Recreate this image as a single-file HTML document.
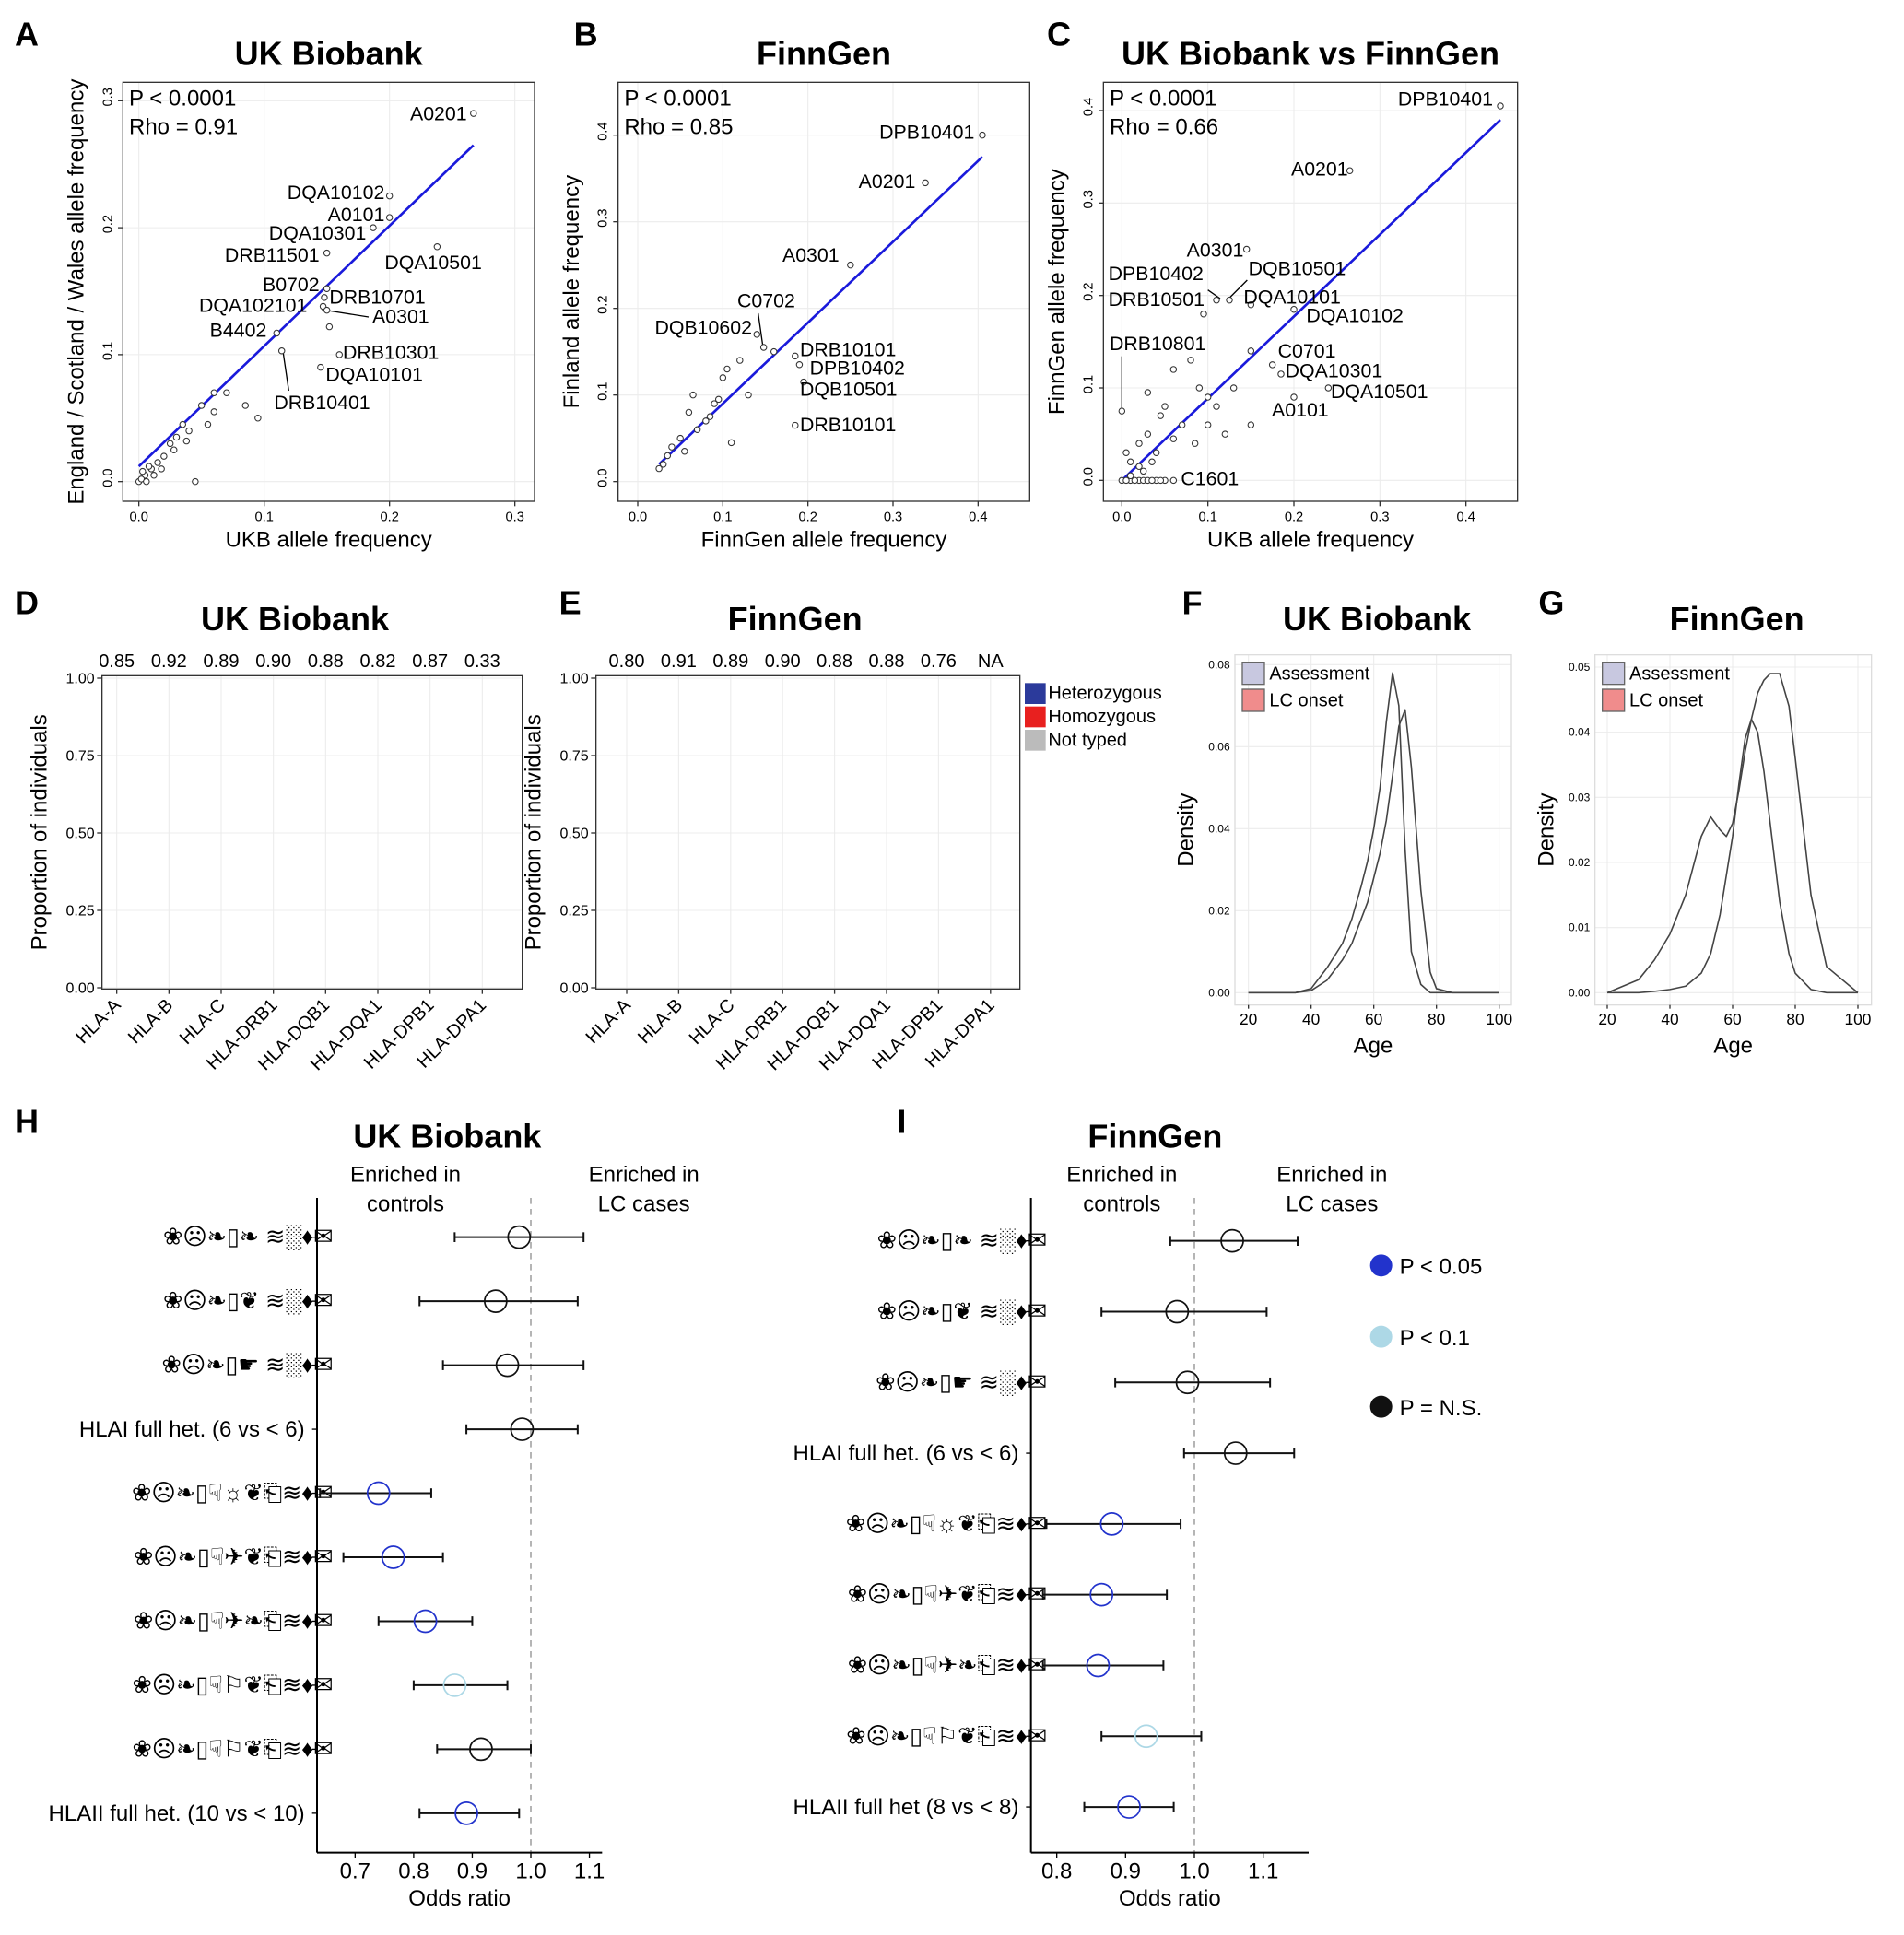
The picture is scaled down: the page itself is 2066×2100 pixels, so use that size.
<!DOCTYPE html>
<html><head><meta charset="utf-8"><style>
html,body{margin:0;padding:0;background:#fff}
svg{display:block;font-family:"Liberation Sans",Arial,sans-serif}
</style></head><body>
<svg id="fig" width="2066" height="2100" viewBox="0 0 1549.5 1575" xmlns="http://www.w3.org/2000/svg"></svg>
<script>
// ---------- DATA ----------
const scatterA = [[0.267,0.29,"A0201"],[0.2,0.225,"DQA10102"],[0.2,0.208,"A0101"],[0.187,0.2,"DQA10301"],[0.15,0.18,"DRB11501"],[0.238,0.185,"DQA10501"],[0.15,0.152,"B0702"],[0.148,0.145,"DRB10701"],[0.147,0.138,"DQA102101"],[0.15,0.135,"A0301"],[0.11,0.117,"B4402"],[0.16,0.1,"DRB10301"],[0.145,0.09,"DQA10101"],[0.114,0.103,"DRB10401"],
[0.152,0.122,""],[0.095,0.05,""],[0.085,0.06,""],[0.07,0.07,""],[0.06,0.055,""],[0.055,0.045,""],[0.04,0.04,""],[0.035,0.045,""],[0.03,0.035,""],[0.045,0.0,""],[0.025,0.03,""],[0.02,0.02,""],[0.015,0.015,""],[0.01,0.01,""],[0.005,0.005,""],[0.0,0.0,""],[0.008,0.012,""],[0.003,0.008,""],[0.012,0.005,""],[0.06,0.07,""],[0.05,0.06,""],[0.038,0.032,""],[0.028,0.025,""],[0.018,0.01,""],[0.002,0.002,""],[0.006,0.0,""]];
const scatterB = [[0.405,0.4,"DPB10401"],[0.338,0.345,"A0201"],[0.25,0.25,"A0301"],[0.148,0.155,"C0702"],[0.14,0.17,"DQB10602"],[0.185,0.145,"DRB10101"],[0.19,0.135,"DPB10402"],[0.195,0.115,"DQB10501"],[0.185,0.065,"DRB10101"],
[0.12,0.14,""],[0.1,0.12,""],[0.09,0.09,""],[0.08,0.07,""],[0.07,0.06,""],[0.06,0.08,""],[0.05,0.05,""],[0.04,0.04,""],[0.03,0.02,""],[0.025,0.015,""],[0.035,0.03,""],[0.11,0.045,""],[0.13,0.1,""],[0.095,0.095,""],[0.085,0.075,""],[0.065,0.1,""],[0.055,0.035,""],[0.16,0.15,""],[0.105,0.13,""]];
const scatterC = [[0.44,0.405,"DPB10401"],[0.265,0.335,"A0201"],[0.145,0.25,"A0301"],[0.125,0.195,"DQB10501"],[0.11,0.195,"DPB10402"],[0.095,0.18,"DRB10501"],[0.15,0.19,"DQA10101"],[0.2,0.185,"DQA10102"],[0.0,0.075,"DRB10801"],[0.175,0.125,"C0701"],[0.185,0.115,"DQA10301"],[0.24,0.1,"DQA10501"],[0.2,0.09,"A0101"],[0.06,0.0,"C1601"],
[0.03,0.095,""],[0.05,0.08,""],[0.07,0.06,""],[0.1,0.06,""],[0.13,0.1,""],[0.15,0.14,""],[0.12,0.05,""],[0.08,0.13,""],[0.06,0.12,""],[0.02,0.04,""],[0.01,0.02,""],[0.04,0.03,""],[0.03,0.05,""],[0.045,0.07,""],[0.09,0.1,""],[0.11,0.08,""],[0.15,0.06,""],[0.02,0.0,""],[0.01,0.0,""],[0.04,0.0,""],[0.05,0.0,""],[0.0,0.0,""],[0.025,0.01,""],[0.005,0.03,""],[0.085,0.04,""],[0.005,0.0,""],[0.015,0.0,""],[0.025,0.0,""],[0.03,0.0,""],[0.035,0.0,""],[0.045,0.0,""],[0.01,0.005,""],[0.02,0.015,""],[0.035,0.02,""],[0.06,0.045,""],[0.1,0.09,""]];
const fitA=[0.0,0.012,0.267,0.265], fitB=[0.025,0.02,0.405,0.375], fitC=[0.0,0.0,0.44,0.39];
const lociCats=["HLA-A","HLA-B","HLA-C","HLA-DRB1","HLA-DQB1","HLA-DQA1","HLA-DPB1","HLA-DPA1"];
const topD=["0.85","0.92","0.89","0.90","0.88","0.82","0.87","0.33"];
const topE=["0.80","0.91","0.89","0.90","0.88","0.88","0.76","NA"];
const ages=[20,30,35,40,45,50,53,56,58,60,62,64,66,68,70,72,75,78,80,85,90,100];
const ukAssess=[0,0,0,0.001,0.006,0.012,0.018,0.026,0.032,0.04,0.05,0.066,0.078,0.07,0.035,0.01,0.002,0,0,0,0,0];
const ukOnset=[0,0,0,0.0005,0.003,0.008,0.012,0.018,0.022,0.028,0.034,0.042,0.053,0.065,0.069,0.055,0.025,0.005,0.001,0,0,0];
const fgAssess=[0,0,0.0002,0.0005,0.001,0.003,0.006,0.012,0.018,0.024,0.032,0.039,0.042,0.04,0.034,0.026,0.014,0.006,0.003,0.0005,0,0];
const fgOnset=[0,0.002,0.005,0.009,0.015,0.024,0.027,0.025,0.024,0.026,0.031,0.037,0.042,0.046,0.048,0.049,0.049,0.044,0.036,0.015,0.004,0];
const hLabels=["\u2740\u2639\u2767\u25AF\u2767 \u224B\u2591\u2666\u2709","\u2740\u2639\u2767\u25AF\u2766 \u224B\u2591\u2666\u2709","\u2740\u2639\u2767\u25AF\u261B \u224B\u2591\u2666\u2709","HLAI full het. (6 vs < 6)","\u2740\u2639\u2767\u25AF\u261F\u263C\u2766\u2397\u224B\u2666\u2709","\u2740\u2639\u2767\u25AF\u261F\u2708\u2766\u2397\u224B\u2666\u2709","\u2740\u2639\u2767\u25AF\u261F\u2708\u2767\u2397\u224B\u2666\u2709","\u2740\u2639\u2767\u25AF\u261F\u2690\u2766\u2397\u224B\u2666\u2709","\u2740\u2639\u2767\u25AF\u261F\u2690\u2766\u2397\u224B\u2666\u2709","HLAII full het. (10 vs < 10)"];
const hOR=[0.98,0.94,0.96,0.985,0.74,0.765,0.82,0.87,0.915,0.89];
const hLo=[0.87,0.81,0.85,0.89,0.64,0.68,0.74,0.80,0.84,0.81];
const hHi=[1.09,1.08,1.09,1.08,0.83,0.85,0.90,0.96,1.00,0.98];
const hSig=[0,0,0,0,2,2,2,1,0,2];
const iLabels=["\u2740\u2639\u2767\u25AF\u2767 \u224B\u2591\u2666\u2709","\u2740\u2639\u2767\u25AF\u2766 \u224B\u2591\u2666\u2709","\u2740\u2639\u2767\u25AF\u261B \u224B\u2591\u2666\u2709","HLAI full het. (6 vs < 6)","\u2740\u2639\u2767\u25AF\u261F\u263C\u2766\u2397\u224B\u2666\u2709","\u2740\u2639\u2767\u25AF\u261F\u2708\u2766\u2397\u224B\u2666\u2709","\u2740\u2639\u2767\u25AF\u261F\u2708\u2767\u2397\u224B\u2666\u2709","\u2740\u2639\u2767\u25AF\u261F\u2690\u2766\u2397\u224B\u2666\u2709","HLAII full het (8 vs < 8)"];
const iOR=[1.055,0.975,0.99,1.06,0.88,0.865,0.86,0.93,0.905];
const iLo=[0.965,0.865,0.885,0.985,0.785,0.78,0.78,0.865,0.84];
const iHi=[1.15,1.105,1.11,1.145,0.98,0.96,0.955,1.01,0.97];
const iSig=[0,0,0,0,2,2,2,1,2];
const sigColors=["#111","#add8e6","#2233cc"];

// label placement (layout, not data)
const posA={0:[380,98,'end'],1:[313,162,'end'],2:[313,180,'end'],3:[298,195,'end'],4:[260,213,'end'],5:[313,219,'start'],6:[260,237,'end'],7:[268,247,'start'],8:[250,254,'end'],9:[303,263,'start'],10:[217,274,'end'],11:[279,292,'start'],12:[265,310,'start'],13:[223,333,'start']};
const posB={0:[793,113,'end'],1:[745,153,'end'],2:[683,213,'end'],3:[600,250,'start'],4:[612,272,'end'],5:[651,290,'start'],6:[659,305,'start'],7:[651,322,'start'],8:[651,351,'start']};
const posC={0:[1215,86,'end'],1:[1097,143,'end'],2:[1012,209,'end'],3:[1016,224,'start'],4:[902,228,'start'],5:[902,249,'start'],6:[1012,247,'start'],7:[1063,262,'start'],8:[903,285,'start'],9:[1040,291,'start'],10:[1046,307,'start'],11:[1083,324,'start'],12:[1035,339,'start'],13:[961,395,'start']};
const leadA=[[262,252,300,258],[230,284,235,318]], leadB=[[621,283,617,255]], leadC=[[913,290,913,335],[1000,243,1015,228],[983,236,993,243]];

// ---------- HELPERS ----------
const svg=document.getElementById('fig');const NS="http://www.w3.org/2000/svg";
function el(tag,attrs,parent,txt){const e=document.createElementNS(NS,tag);for(const k in attrs)e.setAttribute(k,attrs[k]);if(txt!==undefined)e.textContent=txt;(parent||svg).appendChild(e);return e;}
function lin(d0,d1,r0,r1){return v=>r0+(v-d0)*(r1-r0)/(d1-d0);}
function grp(name){const g=el('g',{},svg);return g;}
function txt(g,x,y,s,size,anchor,name,extra){const t=el('text',Object.assign({x:x,y:y,'font-size':size,'text-anchor':anchor||'start',fill:'#000'},extra||{}),g,s);return t;}
function grid(g,x0,y0,x1,y1,xs,ys){xs.forEach(x=>el('line',{x1:x,x2:x,y1:y0,y2:y1,stroke:'#ececec','stroke-width':0.8},g));ys.forEach(y=>el('line',{x1:x0,x2:x1,y1:y,y2:y,stroke:'#ececec','stroke-width':0.8},g));}

[["A",12,37],["B",467,37],["C",852,37],["D",12,500],["E",455,500],["F",962,500],["G",1252,500],["H",12,922],["I",730,922]].forEach(p=>{const g=grp('panel-letter-'+p[0].toLowerCase());txt(g,p[1],p[2],p[0],27,'start','panel-letter',{'font-weight':'bold'});});

// ---------- SCATTER PANELS ----------
function scatter(key,title,box,xd,yd,xt,yt,data,fit,xlab,ylab,statP,statR,pos,leads){
  const g=grp('scatter-'+key);
  const [x0,y0,x1,y1]=box;
  const sx=lin(xd[0],xd[1],xd[2],xd[3]), sy=lin(yd[0],yd[1],yd[2],yd[3]);
  grid(g,x0,y0,x1,y1,xt.map(sx),yt.map(sy));
  el('rect',{x:x0,y:y0,width:x1-x0,height:y1-y0,fill:'none',stroke:'#333','stroke-width':1},g);
  txt(g,(x0+x1)/2,53,title,27,'middle','chart-title',{'font-weight':'bold'});
  xt.forEach(v=>{el('line',{x1:sx(v),x2:sx(v),y1:y1,y2:y1+4,stroke:'#333'},g);txt(g,sx(v),y1+16,v.toFixed(1),11,'middle','x-tick-label');});
  yt.forEach(v=>{el('line',{x1:x0-4,x2:x0,y1:sy(v),y2:sy(v),stroke:'#333'},g);txt(g,x0-6,sy(v),v.toFixed(1),11,'middle','y-tick-label',{transform:`rotate(-90 ${x0-9} ${sy(v)})`});});
  txt(g,(x0+x1)/2,y1+37,xlab,18,'middle','x-axis-title');
  const yc=(y0+y1)/2;txt(g,x0-32,yc,ylab,18,'middle','y-axis-title',{transform:`rotate(-90 ${x0-32} ${yc})`});
  txt(g,x0+5,y0+19,statP,18,'start','p-value-annotation');
  txt(g,x0+5,y0+42,statR,18,'start','rho-annotation');
  const fl=el('line',{x1:sx(fit[0]),y1:sy(fit[1]),x2:sx(fit[2]),y2:sy(fit[3]),stroke:'#1a1adb','stroke-width':2},g);
  
  leads.forEach(l=>{const ln=el('line',{x1:l[0],y1:l[1],x2:l[2],y2:l[3],stroke:'#000','stroke-width':1},g);});
  data.forEach((d,i)=>{
    const c=el('circle',{cx:sx(d[0]),cy:sy(d[1]),r:2.4,fill:'#fff',stroke:'#333','stroke-width':0.8},g);
    
    if(d[2]){const o=pos[i];txt(g,o[0],o[1],d[2],16,o[2],'allele-label');}
  });
}
scatter('a','UK Biobank',[100,67,435,408],[0,0.3,113,419],[0,0.3,392,82],[0,0.1,0.2,0.3],[0,0.1,0.2,0.3],scatterA,fitA,'UKB allele frequency','England / Scotland / Wales allele frequency','P < 0.0001','Rho = 0.91',posA,leadA);
scatter('b','FinnGen',[503,67,838,408],[0,0.4,519,796],[0,0.4,392,110],[0,0.1,0.2,0.3,0.4],[0,0.1,0.2,0.3,0.4],scatterB,fitB,'FinnGen allele frequency','Finland allele frequency','P < 0.0001','Rho = 0.85',posB,leadB);
scatter('c','UK Biobank vs FinnGen',[898,67,1235,408],[0,0.4,913,1193],[0,0.4,391,90],[0,0.1,0.2,0.3,0.4],[0,0.1,0.2,0.3,0.4],scatterC,fitC,'UKB allele frequency','FinnGen allele frequency','P < 0.0001','Rho = 0.66',posC,leadC);

// ---------- BAR PANELS ----------
function barPanel(key,box,cx0,step,tops,titleX){
  const g=grp('bar-chart-'+key);const [x0,y0,x1,y1]=box;const sy=lin(0,1,804,552);
  const xs=lociCats.map((c,i)=>cx0+i*step);
  grid(g,x0,y0,x1,y1,xs,[0,0.25,0.5,0.75,1].map(sy));
  el('rect',{x:x0,y:y0,width:x1-x0,height:y1-y0,fill:'none',stroke:'#333'},g);
  txt(g,titleX,513,key==='d'?'UK Biobank':'FinnGen',27,'middle','chart-title',{'font-weight':'bold'});
  [0,0.25,0.5,0.75,1].forEach(v=>{el('line',{x1:x0-4,x2:x0,y1:sy(v),y2:sy(v),stroke:'#333'},g);txt(g,x0-6,sy(v)+4,v.toFixed(2),12,'end','y-tick-label');});
  const yc=(y0+y1)/2;txt(g,x0-45,yc,'Proportion of individuals',18,'middle','y-axis-title',{transform:`rotate(-90 ${x0-45} ${yc})`});
  lociCats.forEach((c,i)=>{el('line',{x1:xs[i],x2:xs[i],y1:y1,y2:y1+4,stroke:'#333'},g);txt(g,xs[i]+4,y1+14,c,15,'end','x-tick-label',{transform:`rotate(-45 ${xs[i]+4} ${y1+14})`});txt(g,xs[i],543,tops[i],15,'middle','het-value-label');});
}
barPanel('d',[83,550,425,805],95,42.5,topD,240);
barPanel('e',[485,550,830,805],510,42.3,topE,647);
{const g=grp('genotype-legend');[["Heterozygous","#2b3a9b",556],["Homozygous","#e8201f",575],["Not typed","#bbbbbb",594]].forEach(l=>{const r=el('rect',{x:834,y:l[2],width:17,height:17,fill:l[1]},g);txt(g,853,l[2]+13,l[0],15,'start','legend-entry');});}

// ---------- DENSITY PANELS ----------
function density(key,title,box,xd,yd,yt,yfmt,sA,sO){
  const g=grp('density-'+key);const [x0,y0,x1,y1]=box;
  const sx=lin(xd[0],xd[1],xd[2],xd[3]), sy=lin(yd[0],yd[1],yd[2],yd[3]);
  const xt=[20,40,60,80,100];
  grid(g,x0,y0,x1,y1,xt.map(sx),yt.map(sy));
  el('rect',{x:x0,y:y0,width:x1-x0,height:y1-y0,fill:'none',stroke:'#ddd'},g);
  txt(g,(x0+x1)/2+3,513,title,27,'middle','chart-title',{'font-weight':'bold'});
  xt.forEach(v=>{el('line',{x1:sx(v),x2:sx(v),y1:y1,y2:y1+3,stroke:'#333'},g);txt(g,sx(v),y1+16,String(v),13,'middle','x-tick-label');});
  yt.forEach(v=>{txt(g,x0-4,sy(v)+3,v.toFixed(yfmt),9,'end','y-tick-label');});
  txt(g,(x0+x1)/2,y1+39,'Age',18,'middle','x-axis-title');
  const yc=(y0+y1)/2;txt(g,x0-34,yc,'Density',18,'middle','y-axis-title',{transform:`rotate(-90 ${x0-34} ${yc})`});
  [[sA,'assessment-density-curve'],[sO,'lc-onset-density-curve']].forEach(s=>{
    const p=el('path',{d:ages.map((a,i)=>(i?'L':'M')+sx(a).toFixed(1)+','+sy(s[0][i]).toFixed(1)).join(''),fill:'none',stroke:'#444','stroke-width':1.2,'stroke-linejoin':'round'},g);
    });
  [["Assessment","#c8c8e0",y0+6],["LC onset","#f08c8c",y0+28]].forEach(l=>{const r=el('rect',{x:x0+6,y:l[2],width:18,height:18,fill:l[1],stroke:'#666'},g);txt(g,x0+28,l[2]+14,l[0],15,'start','legend-entry');});
}
density('f','UK Biobank',[1005,533,1230,818],[20,100,1016,1220],[0,0.08,808,541],[0,0.02,0.04,0.06,0.08],2,ukAssess,ukOnset);
density('g','FinnGen',[1298,533,1523,818],[20,100,1308,1512],[0,0.05,808,543],[0,0.01,0.02,0.03,0.04,0.05],2,fgAssess,fgOnset);

// ---------- FOREST PANELS ----------
function forest(key,title,axX,axEnd,xd,ticks,rowY0,rowStep,labels,or,lo,hi,sig,titleX,encX1,encX2){
  const g=grp('forest-'+key);const sx=lin(xd[0],xd[1],xd[2],xd[3]);
  txt(g,titleX,934,title,27,'middle','chart-title',{'font-weight':'bold'});
  txt(g,encX1,962,'Enriched in',18,'middle','annotation-controls');txt(g,encX1,986,'controls',18,'middle','annotation-controls');
  txt(g,encX2,962,'Enriched in',18,'middle','annotation-cases');txt(g,encX2,986,'LC cases',18,'middle','annotation-cases');
  el('line',{x1:sx(1),x2:sx(1),y1:975,y2:1508,stroke:'#aaa','stroke-dasharray':'5,4','stroke-width':1.3},g);
  el('line',{x1:axX,x2:axX,y1:975,y2:1508,stroke:'#000','stroke-width':1.5},g);
  el('line',{x1:axX,x2:axEnd,y1:1508,y2:1508,stroke:'#000','stroke-width':1.5},g);
  ticks.forEach(v=>{el('line',{x1:sx(v),x2:sx(v),y1:1508,y2:1512,stroke:'#000'},g);txt(g,sx(v),1529,v.toFixed(1),18,'middle','x-tick-label');});
  txt(g,(axX+axEnd)/2,1551,'Odds ratio',18,'middle','x-axis-title');
  labels.forEach((l,i)=>{const y=rowY0+i*rowStep;
    const isText=l.indexOf('full')>=0;
    txt(g,isText?axX-10:axX+13,y+6,l,isText?18:19,'end','row-label');
    el('line',{x1:axX-4,x2:axX,y1:y,y2:y,stroke:'#000'},g);
    const ln=el('line',{x1:sx(lo[i]),x2:sx(hi[i]),y1:y,y2:y,stroke:'#111','stroke-width':1.5},g);
    [lo[i],hi[i]].forEach(v=>el('line',{x1:sx(v),x2:sx(v),y1:y-4,y2:y+4,stroke:'#111','stroke-width':1.5},g));
    const c=el('circle',{cx:sx(or[i]),cy:y,r:9,fill:'none',stroke:sigColors[sig[i]],'stroke-width':1.3},g);
  });
}
forest('h','UK Biobank',258,490,[0.7,1.0,289,432],[0.7,0.8,0.9,1.0,1.1],1007,52.1,hLabels,hOR,hLo,hHi,hSig,364,330,524);
forest('i','FinnGen',839,1065,[0.8,1.0,860,972],[0.8,0.9,1.0,1.1],1010,57.6,iLabels,iOR,iLo,iHi,iSig,940,913,1084);
{const g=grp('significance-legend');[["P < 0.05",2,1030],["P < 0.1",1,1088],["P = N.S.",0,1145]].forEach(l=>{const c=el('circle',{cx:1124,cy:l[2],r:9,fill:sigColors[l[1]]},g);txt(g,1139,l[2]+7,l[0],18,'start','legend-entry');});}
</script>
</body></html>
